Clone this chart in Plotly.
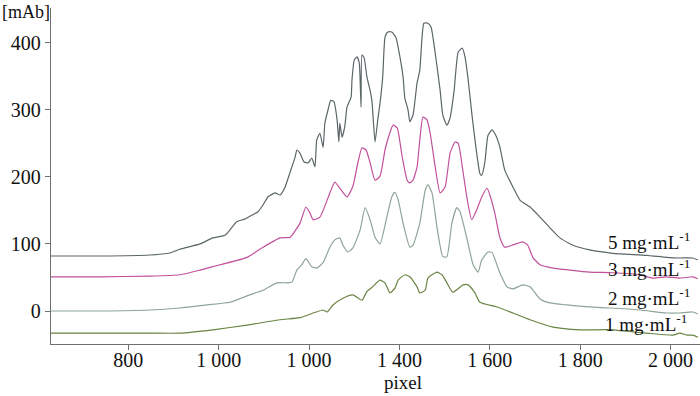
import plotly.graph_objects as go

# ---- data (x in pixel units, y in mAb) ----
x5 = [629, 737, 848, 892, 914, 959, 987, 1014, 1025, 1040,
      1058, 1074, 1087, 1098, 1109, 1125, 1136, 1147, 1158, 1169,
      1173, 1180, 1189, 1198, 1206, 1213, 1217, 1224, 1231, 1235,
      1242, 1248, 1255, 1262, 1266, 1268, 1273, 1279, 1284, 1293,
      1295, 1300, 1306, 1311, 1315, 1317, 1322, 1328, 1335, 1339,
      1346, 1352, 1357, 1363, 1368, 1374, 1383, 1392, 1401, 1408,
      1412, 1419, 1423, 1430, 1439, 1445, 1450, 1454, 1463, 1470,
      1479, 1490, 1496, 1505, 1512, 1521, 1530, 1539, 1545, 1552,
      1560, 1569, 1578, 1582, 1589, 1596, 1605, 1613, 1622, 1633,
      1651, 1667, 1689, 1711, 1733, 1755, 1784, 1821, 1872, 1947,
      1991, 2020, 2049, 2060]
y5 = [82, 82, 83.5, 86.5, 92, 100, 109, 113, 121, 133,
      137, 143, 148, 158, 170, 176, 173, 185, 207, 229,
      240, 235, 222, 221, 228, 215, 255, 265, 244, 280,
      300, 314, 312, 285, 252, 280, 259, 275, 304, 319,
      345, 374, 379, 370, 304, 382, 377, 349, 329, 314,
      252, 285, 310, 349, 408, 416, 416, 408, 379, 349,
      317, 300, 282, 292, 340, 359, 408, 429, 429, 423,
      385, 329, 292, 277, 288, 329, 386, 392, 379, 345,
      295, 245, 205, 202, 222, 262, 270, 262, 245, 210,
      185, 165, 155, 140, 124, 109, 98, 91, 86, 83,
      80, 79, 79, 76]

x3 = [629, 737, 848, 914, 959, 1003, 1063, 1098, 1136, 1158,
      1180, 1193, 1202, 1209, 1224, 1246, 1257, 1268, 1284, 1297,
      1308, 1317, 1326, 1335, 1346, 1357, 1368, 1377, 1386, 1395,
      1406, 1417, 1423, 1430, 1439, 1445, 1452, 1461, 1468, 1479,
      1490, 1501, 1512, 1523, 1530, 1541, 1550, 1560, 1571, 1582,
      1594, 1600, 1611, 1622, 1633, 1649, 1673, 1684, 1695, 1711,
      1740, 1777, 1821, 1872, 1932, 1961, 1991, 2020, 2049, 2060]
y3 = [51, 51, 52, 54, 61, 69, 80, 95, 109, 110,
      131, 155, 146, 136, 140, 176, 192, 183, 170, 186,
      221, 243, 240, 221, 195, 201, 240, 262, 277, 273,
      230, 195, 191, 195, 215, 255, 289, 285, 265, 215,
      176, 185, 235, 252, 250, 206, 166, 136, 151, 170,
      183, 173, 146, 110, 95, 98, 103, 98, 80, 69,
      64, 61, 58, 57, 54, 49, 51, 49, 51, 48]

x2 = [629, 737, 848, 914, 974, 1025, 1069, 1098, 1129, 1151,
      1162, 1173, 1184, 1193, 1206, 1217, 1231, 1246, 1257, 1268,
      1275, 1286, 1297, 1313, 1324, 1335, 1346, 1357, 1372, 1383,
      1390, 1397, 1408, 1423, 1430, 1445, 1457, 1463, 1472, 1483,
      1496, 1505, 1516, 1527, 1534, 1550, 1563, 1574, 1582, 1596,
      1605, 1622, 1638, 1651, 1673, 1689, 1711, 1733, 1771, 1821,
      1866, 1932, 1991, 2020, 2049, 2060]
y2 = [0, 0, 1.5, 4.5, 9, 13, 24, 31, 42, 42,
      43, 61, 69, 78, 66, 64, 72, 95, 106, 109,
      98, 88, 94, 121, 154, 136, 110, 100, 140, 170,
      177, 166, 131, 95, 98, 131, 180, 188, 176, 125,
      81, 81, 131, 154, 148, 106, 69, 58, 76, 88,
      87, 57, 36, 33, 39, 36, 18, 12, 9, 6,
      4.5, 1.5, -3, -3, -1.5, -4.5]

x1 = [629, 737, 848, 914, 987, 1063, 1136, 1180, 1209, 1231,
      1240, 1253, 1275, 1297, 1317, 1328, 1339, 1357, 1368, 1379,
      1390, 1397, 1412, 1423, 1439, 1445, 1457, 1463, 1483, 1494,
      1505, 1518, 1541, 1552, 1567, 1578, 1616, 1651, 1689, 1740,
      1800, 1872, 1947, 2005, 2020, 2036, 2049, 2060]
y1 = [-33, -33, -33, -33, -28, -21, -13, -10, -3, 1.5,
      -1.5, 9, 19, 24, 16, 29, 35, 46, 42, 27,
      34, 46, 54, 51, 36, 27, 31, 49, 58, 54,
      42, 28, 39, 39, 27, 13, 6, -3, -13, -24,
      -28, -28, -33, -36, -33, -36, -36, -39]

series_labels = ["5 mg·mL<sup>-1</sup>", "3 mg·mL<sup>-1</sup>",
                 "2 mg·mL<sup>-1</sup>", "1 mg·mL<sup>-1</sup>"]
label_x = [1858, 1858, 1858, 1851]
label_y = [105, 64, 21, -18]

x_tickvals = [800, 1000, 1200, 1400, 1600, 1800, 2000]
x_ticktext = ["800", "1 000", "1 000", "1 400", "1 600", "1 800", "2 000"]
y_tickvals = [0, 100, 200, 300, 400]

colors = ["#5b6668", "#c2509b", "#8ea597", "#6a8443"]

fig = go.Figure()
for xs, ys, c in zip([x5, x3, x2, x1], [y5, y3, y2, y1], colors):
    assert len(xs) == len(ys)
    fig.add_trace(go.Scatter(x=xs, y=ys, mode="lines",
                             line=dict(color=c, width=1.2, shape="spline", smoothing=0.5),
                             showlegend=False))

font_serif = "Liberation Serif, Times New Roman, serif"
for t, lx, ly in zip(series_labels, label_x, label_y):
    fig.add_annotation(x=lx, y=ly, xref="x", yref="y", text=t, showarrow=False,
                       xanchor="left", yanchor="middle",
                       font=dict(family=font_serif, size=19, color="#111"))

fig.add_annotation(x=-51 / 649, y=(344 - 12) / 336, xref="paper", yref="paper",
                   text="[mAb]", showarrow=False, xanchor="left", yanchor="middle",
                   font=dict(family=font_serif, size=18, color="#111"))
fig.add_annotation(x=(403 - 51) / 649, y=(344 - 382) / 336, xref="paper", yref="paper",
                   text="pixel", showarrow=False, xanchor="center", yanchor="middle",
                   font=dict(family=font_serif, size=19, color="#111"))

fig.update_layout(
    width=700, height=396,
    margin=dict(l=51, r=0, t=8, b=52, autoexpand=False),
    paper_bgcolor="white", plot_bgcolor="white",
    showlegend=False,
    xaxis=dict(range=[629, 2065], tickvals=x_tickvals, ticktext=x_ticktext,
               showgrid=False, zeroline=False, showline=True, automargin=False,
               linecolor="#707070", linewidth=1.3,
               ticks="outside", ticklen=5, tickcolor="#707070", tickwidth=1.3,
               ticklabelstandoff=-7,
               tickfont=dict(family=font_serif, size=20, color="#111")),
    yaxis=dict(range=[-49.2, 451.7], tickvals=y_tickvals,
               showgrid=False, zeroline=False, showline=True, automargin=False,
               linecolor="#707070", linewidth=1.3,
               ticks="outside", ticklen=5, tickcolor="#707070", tickwidth=1.3,
               tickfont=dict(family=font_serif, size=20, color="#111")),
)

fig.write_html("out.html", config={"displayModeBar": False},
               post_script="document.body.style.margin='0';")
